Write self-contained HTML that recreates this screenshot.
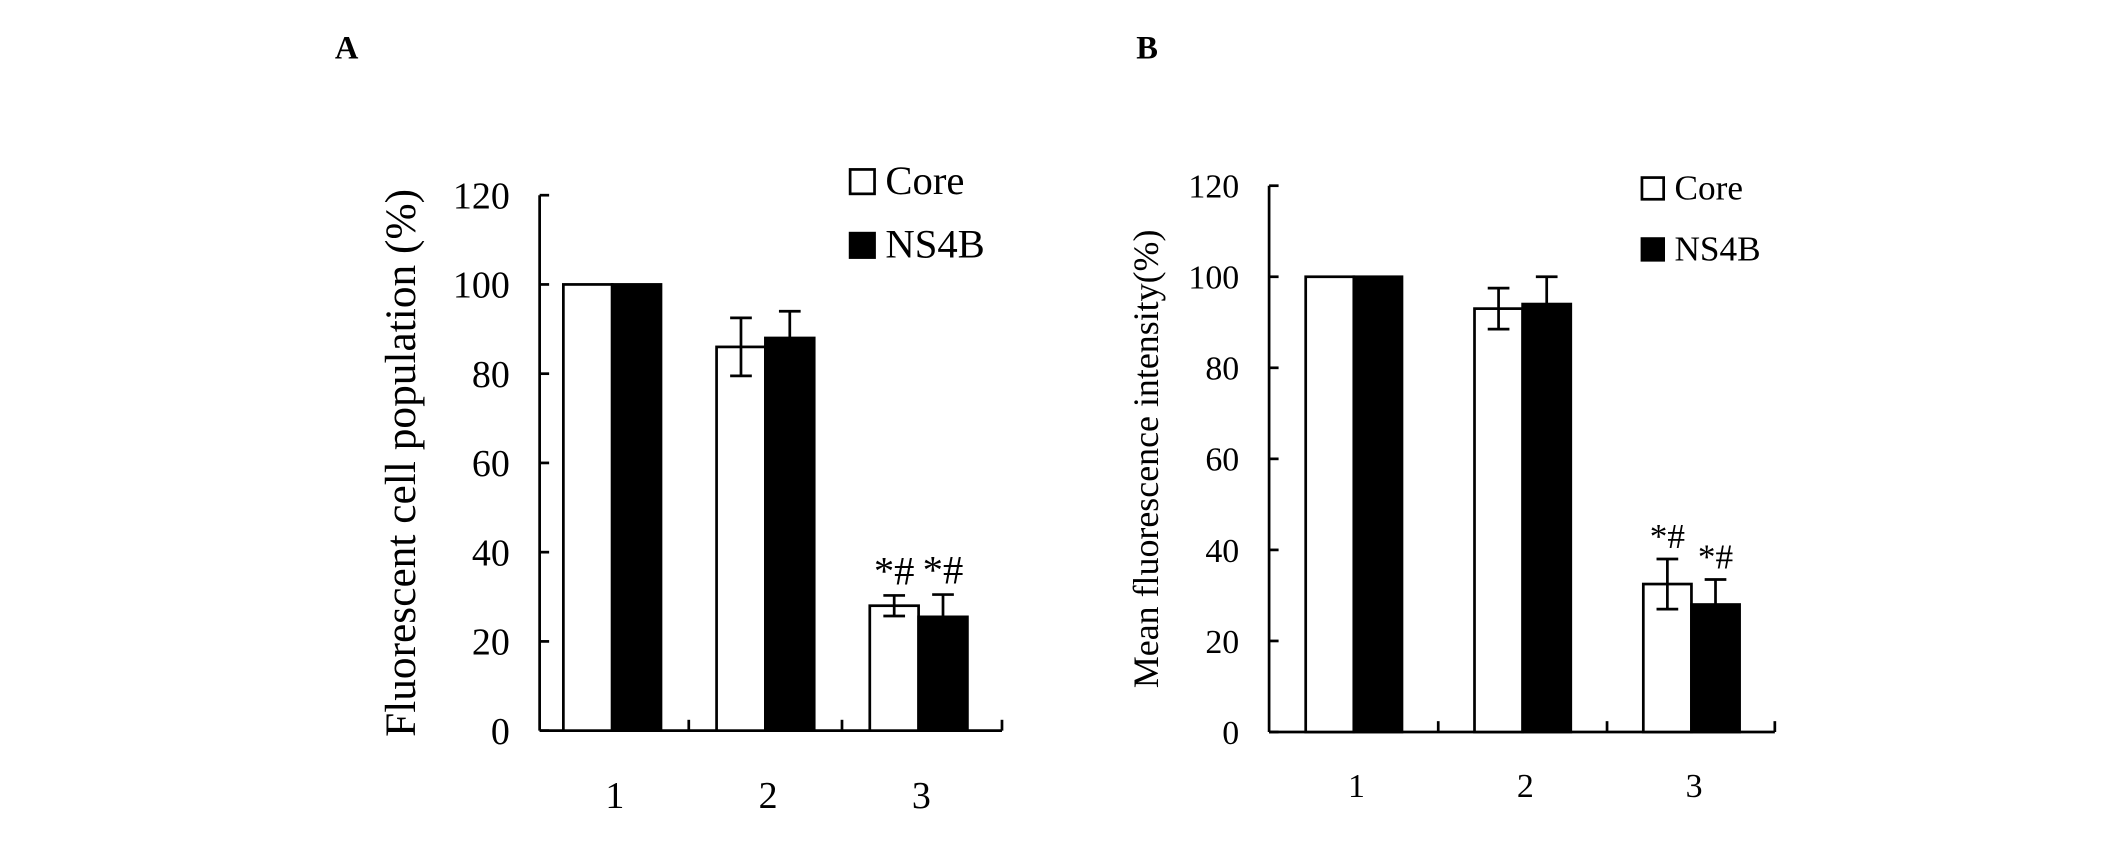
<!DOCTYPE html>
<html><head><meta charset="utf-8"><style>
html,body{margin:0;padding:0;background:#fff;}
svg{display:block;font-family:"Liberation Serif",serif;}
</style></head><body>
<svg id="fig" width="2126" height="854" viewBox="0 0 1568 630" preserveAspectRatio="none">
<text x="247" y="43" font-size="24" font-weight="bold">A</text>
<text x="838" y="43" font-size="24" font-weight="bold">B</text>
</svg>
<script>
const categories = ["1","2","3"];
const aCore = [100, 86, 28];
const aCoreErr = [0, 6.5, 2.3];
const aNS4B = [100, 88, 25.5];
const aNS4BErr = [0, 6, 5];
const bCore = [100, 93, 32.5];
const bCoreErr = [0, 4.5, 5.5];
const bNS4B = [100, 94, 28];
const bNS4BErr = [0, 6, 5.5];
const yTicks = [0, 20, 40, 60, 80, 100, 120];
const aSig = ["", "", "*#"];
const bSig = ["", "", "*#"];

const NS = "http://www.w3.org/2000/svg";
const svg = document.getElementById('fig');
function mk(tag, attrs, parent){
  const e = document.createElementNS(NS, tag);
  for (const k in attrs) e.setAttribute(k, attrs[k]);
  (parent||svg).appendChild(e);
  return e;
}
function panel(p){
  const g = mk('g', {});
  
  
  const y = v => p.y0 - v * (p.y0 - p.yTop) / 120;
  const catW = p.catW;
  const cx = i => p.c0 + catW * i;
  const ya = mk('line', {x1:p.x0, y1:p.yTop, x2:p.x0, y2:p.y0, stroke:'#000','stroke-width':2}, g);
  
  
  const xa = mk('line', {x1:p.x0, y1:p.y0, x2:p.xEnd, y2:p.y0, stroke:'#000','stroke-width':2}, g);
  
  
  yTicks.forEach(t => {
    mk('line', {x1:p.x0, y1:y(t), x2:p.x0+7, y2:y(t), stroke:'#000','stroke-width':2}, g);
    const tl = mk('text', {x:p.x0-22, y:y(t)+p.fs*0.35, 'font-size':p.fs, 'text-anchor':'end'}, g);
    tl.textContent = t;
    
    
  });
  for (let i = 0; i < categories.length; i++) {
    const xx = i < categories.length - 1 ? cx(i) + catW/2 : p.xEnd;
    mk('line', {x1:xx, y1:p.y0, x2:xx, y2:p.y0-8, stroke:'#000','stroke-width':2}, g);
  }
  categories.forEach((c, i) => {
    const tl = mk('text', {x:cx(i)+2, y:p.labY, 'font-size':p.fs, 'text-anchor':'middle'}, g);
    tl.textContent = c;
    
    
    [[p.core, p.coreErr, '#fff', -1, 'core'], [p.ns, p.nsErr, '#000', 0, 'ns4b']].forEach(s => {
      const [vals, errs, fill, off, nm] = s;
      const bx = cx(i) + off * p.bw;
      const r = mk('rect', {x:bx, y:y(vals[i]), width:p.bw, height:p.y0 - y(vals[i]), fill:fill, stroke:'#000', 'stroke-width':2}, g);
      
      
      if (errs[i] > 0) {
        const ex = bx + p.bw/2;
        const e1 = y(vals[i] + errs[i]), e2 = y(vals[i] - errs[i]);
        const eb = mk('path', {d:`M${ex},${e1}V${e2}M${ex-8},${e1}H${ex+8}M${ex-8},${e2}H${ex+8}`, stroke:'#000','stroke-width':2, fill:'none'}, g);
        
        
      }
    });
  });
  categories.forEach((c, i) => {
    if (p.sig[i]) {
      [[-1, p.core, p.coreErr], [0, p.ns, p.nsErr]].forEach(s => {
        const [off, vals, errs] = s;
        const tx = cx(i) + off * p.bw + p.bw/2;
        const t = mk('text', {x:tx, y:y(vals[i] + errs[i]) - p.sigGap, 'font-size':p.sfs, 'text-anchor':'middle'}, g);
        t.textContent = p.sig[i];
        
        
      });
    }
  });
  const tt = mk('text', {x:0, y:0, 'font-size':p.tfs, 'text-anchor':'middle', transform:`translate(${p.titleX},${(p.yTop+p.y0)/2}) rotate(-90)`}, g);
  tt.textContent = p.title;
  
  
  [['Core', '#fff', p.legY1], ['NS4B', '#000', p.legY2]].forEach(L => {
    const sq = mk('rect', {x:p.legX, y:L[2]-p.sq, width:p.sq, height:p.sq, fill:L[1], stroke:'#000', 'stroke-width':2}, g);
    
    
    const lt = mk('text', {x:p.legX+p.sq+8, y:L[2], 'font-size':p.lfs}, g);
    lt.textContent = L[0];
    
    
  });
}
panel({name:'panel-a-chart', x0:398, xEnd:739, c0:451.5, catW:113, yTop:144, y0:539, bw:36, fs:28, tfs:32, sfs:30, labY:596,
  core:aCore, coreErr:aCoreErr, ns:aNS4B, nsErr:aNS4BErr, sig:aSig, sigGap:8,
  title:'Fluorescent cell population (%)', titleX:306, legX:627, legY1:143, legY2:190, sq:18, lfs:30});
panel({name:'panel-b-chart', x0:936, xEnd:1309, c0:998.5, catW:124.5, yTop:137, y0:540, bw:35.5, fs:25, tfs:26.5, sfs:26, labY:588,
  core:bCore, coreErr:bCoreErr, ns:bNS4B, nsErr:bNS4BErr, sig:bSig, sigGap:8,
  title:'Mean fluorescence intensity(%)', titleX:854, legX:1211, legY1:147, legY2:192, sq:16, lfs:26});
</script>
</body></html>
